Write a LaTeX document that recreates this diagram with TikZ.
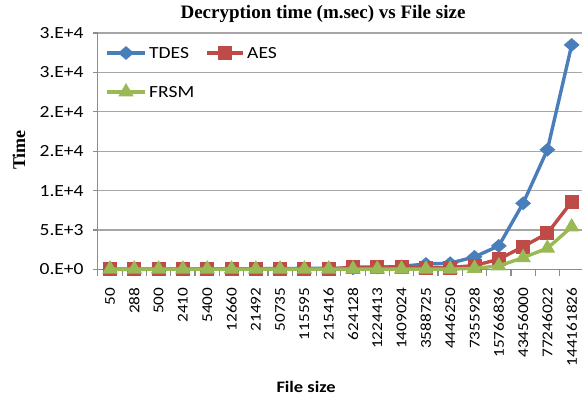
\documentclass[tikz,border=0pt]{standalone}
\usepackage{fontspec}
\usetikzlibrary{calc, shapes.geometric}
\newfontfamily\chartfont[FakeStretch=1.15]{Carlito}
\newfontfamily\titlefont{Liberation Serif}
\definecolor{tdesblue}{HTML}{4A7EBB}
\definecolor{aesred}{HTML}{BE4B48}
\definecolor{frsmgreen}{HTML}{98B954}
\definecolor{gridgray}{HTML}{A6A6A6}
\definecolor{axisgray}{HTML}{8C8C8C}

\begin{document}
\begin{tikzpicture}[x=1pt, y=1pt,
    gridline/.style={gridgray, line width=1.2pt},
    axisline/.style={axisgray, line width=1.2pt},
    series/.style={line width=3.4pt, line join=round},
    tdesmark/.style={diamond, fill=tdesblue, inner sep=0pt, minimum width=16pt, minimum height=14pt},
    aesmark/.style={rectangle, fill=aesred, inner sep=0pt, minimum size=14pt},
    frsmmark/.style={regular polygon, regular polygon sides=3, fill=frsmgreen, inner sep=0pt, minimum size=18pt},
    ticklabel/.style={font=\chartfont\fontsize{17}{17}\selectfont, inner sep=0pt},
    catlabel/.style={font=\chartfont\fontsize{15}{15}\selectfont, inner sep=0pt, rotate=90, anchor=east},
  ]
  \useasboundingbox (0,0) rectangle (582,399);

  % --- タイトルと軸ラベル ---
  \node[font=\titlefont\bfseries\fontsize{19}{19}\selectfont] (title) at (323,385) {Decryption time (m.sec) vs File size};
  \node[font=\titlefont\bfseries\fontsize{18}{18}\selectfont, rotate=90] (ylabel) at (19,249) {Time};
  \node[font=\chartfont\bfseries\fontsize{16}{16}\selectfont] (xlabel) at (306,12) {File size};

  % --- データ座標系 (x: 区分番号, y: 1000 単位) ---
  \begin{scope}[shift={(110,129.5)}, x=24.3pt, y=7.88pt]
    % 目盛線
    \foreach \v in {5,10,...,30}
      \draw[gridline] (-0.5,\v) -- (19.6,\v);
    % 軸
    \draw[axisline] (-0.5,0) -- (19.6,0);
    \draw[axisline] (-0.5,0) -- (-0.5,30);
    \foreach \k in {0,...,19}
      \draw[axisline] (\k-0.5,0) -- ++(0,-7pt);
    \foreach \v/\lab in {0/0.E+0, 5/5.E+3, 10/1.E+4, 15/2.E+4, 20/2.E+4, 25/3.E+4, 30/3.E+4} {
      \draw[axisline] (-0.5,\v) -- ++(-5pt,0);
      \node[ticklabel, anchor=east] (ytick\v) at ([xshift=-14pt]-0.5,\v) {\lab};
    }
    % 区分ラベル (ファイルサイズ)
    \foreach \lab [count=\i from 0] in {50,288,500,2410,5400,12660,21492,50735,115595,215416,
        624128,1224413,1409024,3588725,4446250,7355928,15766836,43456000,77246022,144161826}
      \node[catlabel] (xtick\i) at ([yshift=-18pt]\i,0) {\lab};

    % --- TDES ---
    \foreach \v [count=\i from 0] in {0.01,0.02,0.03,0.05,0.06,0.08,0.1,0.12,0.14,0.16,
        0.15,0.25,0.4,0.7,0.8,1.6,3.0,8.4,15.2,28.5}
      \coordinate (tdes\i) at (\i,\v);
    \draw[series, tdesblue] (tdes0) foreach \i in {1,...,19} { -- (tdes\i) };
    \foreach \i in {0,...,19}
      \node[tdesmark] (tdesm\i) at (tdes\i) {};

    % --- AES ---
    \foreach \v [count=\i from 0] in {0.05,0.05,0.05,0.05,0.05,0.05,0.05,0.05,0.05,0.05,
        0.3,0.3,0.3,0.25,0.25,0.5,1.3,2.9,4.6,8.6}
      \coordinate (aes\i) at (\i,\v);
    \draw[series, aesred] (aes0) foreach \i in {1,...,19} { -- (aes\i) };
    \foreach \i in {0,...,19}
      \node[aesmark] (aesm\i) at (aes\i) {};

    % --- FRSM ---
    \foreach \v [count=\i from 0] in {0.05,0.05,0.05,0.05,0.05,0.05,0.05,0.05,0.05,0.05,
        0.05,0.05,0.05,0.05,0.05,0.15,0.45,1.5,2.7,5.4}
      \coordinate (frsm\i) at (\i,\v);
    \draw[series, frsmgreen] (frsm0) foreach \i in {1,...,19} { -- (frsm\i) };
    \foreach \i in {0,...,19}
      \node[frsmmark] (frsmm\i) at (frsm\i) {};
  \end{scope}

  % --- 凡例 ---
  \coordinate (legA) at (107,346);
  \coordinate (legB) at (145,346);
  \coordinate (legC) at (207,346);
  \coordinate (legD) at (243,346);
  \coordinate (legE) at (107,307);
  \coordinate (legF) at (145,307);
  \draw[series, tdesblue] (legA) -- (legB);
  \node[tdesmark] (legtdes) at ($(legA)!0.5!(legB)$) {};
  \node[ticklabel, anchor=west] (legtdestext) at ([xshift=4pt]legB) {TDES};
  \draw[series, aesred] (legC) -- (legD);
  \node[aesmark] (legaes) at ($(legC)!0.5!(legD)$) {};
  \node[ticklabel, anchor=west] (legaestext) at ([xshift=4pt]legD) {AES};
  \draw[series, frsmgreen] (legE) -- (legF);
  \node[frsmmark] (legfrsm) at ($(legE)!0.5!(legF)$) {};
  \node[ticklabel, anchor=west] (legfrsmtext) at ([xshift=4pt]legF) {FRSM};
\end{tikzpicture}
\end{document}
